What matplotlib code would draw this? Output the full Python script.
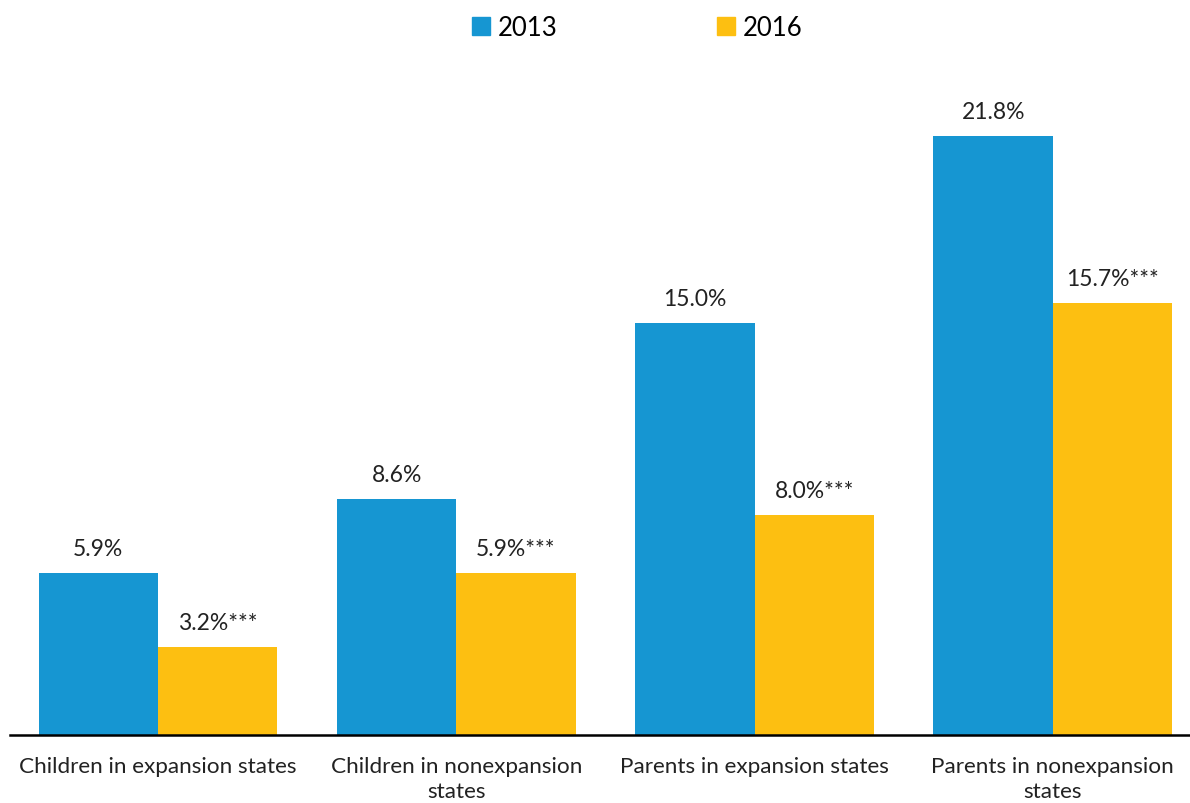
import numpy as np
import matplotlib.pyplot as plt
from matplotlib.patches import Patch

plt.rcParams['font.family'] = ['Lato', 'DejaVu Sans']

categories = ["Children in expansion states", "Children in nonexpansion\nstates",
              "Parents in expansion states", "Parents in nonexpansion\nstates"]
vals_2013 = [5.9, 8.6, 15.0, 21.8]
vals_2016 = [3.2, 5.9, 8.0, 15.7]
labels_2013 = ["5.9%", "8.6%", "15.0%", "21.8%"]
labels_2016 = ["3.2%***", "5.9%***", "8.0%***", "15.7%***"]

blue = "#1696d2"
yellow = "#fdbf11"

fig = plt.figure(figsize=(11.9, 8.04), dpi=100)
ax = fig.add_axes([10 / 1190, (804 - 736) / 804, 1180 / 1190, 660 / 804])

x = np.arange(len(categories))
w = 0.4
ax.bar(x - w / 2, vals_2013, width=w, color=blue, zorder=2)
ax.bar(x + w / 2, vals_2016, width=w, color=yellow, zorder=2)

for xi, v, lab in zip(x, vals_2013, labels_2013):
    ax.annotate(lab, (xi - w / 2, v), xytext=(0, 10), textcoords="offset points",
                ha="center", va="bottom", fontsize=16.5, color="#222222")
for xi, v, lab in zip(x, vals_2016, labels_2016):
    ax.annotate(lab, (xi + w / 2, v), xytext=(0, 10), textcoords="offset points",
                ha="center", va="bottom", fontsize=16.5, color="#222222")

ax.set_xlim(-0.496, 3.46)
ax.set_ylim(0, 24)
ax.set_xticks(x)
ax.set_xticklabels(categories, fontsize=16.2, color="#222222", linespacing=1.35)
ax.tick_params(axis="x", length=0, pad=15)
ax.set_yticks([])
for s in ["top", "right", "left"]:
    ax.spines[s].set_visible(False)
ax.spines["bottom"].set_linewidth(1.8)
ax.spines["bottom"].set_color("black")

handles = [Patch(color=blue, label="2013"), Patch(color=yellow, label="2016")]
fig.legend(handles=handles, loc="center", bbox_to_anchor=(637 / 1190, 1 - 28 / 804),
           ncol=2, frameon=False, fontsize=18.5, handlelength=0.7, handleheight=0.7,
           handletextpad=0.3, columnspacing=6.2)

fig.savefig("out.png", dpi=100)
